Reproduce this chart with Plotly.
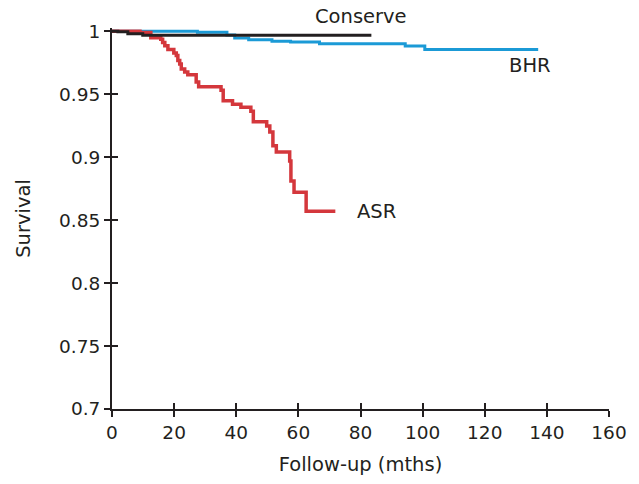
import plotly.graph_objects as go

# ---- data ----
asr_x = [0, 9.0, 12.5, 15.7, 16.3, 17.0, 18.0, 19.9, 20.7, 21.2, 21.8, 22.3, 23.4, 24.4,
         27.1, 27.9, 35.1, 35.8, 38.8, 41.5, 44.7, 45.5, 49.8, 50.8, 51.8, 52.9,
         57.2, 57.6, 58.6, 62.5, 71.9]
asr_y = [1.0, 0.999, 0.9948, 0.9935, 0.991, 0.9885, 0.9854, 0.9827, 0.9807, 0.9767, 0.974, 0.970,
         0.9676, 0.9654, 0.9597, 0.9558, 0.953, 0.9448, 0.942, 0.9395, 0.9364, 0.928, 0.9246,
         0.920, 0.909, 0.904, 0.897, 0.881, 0.872, 0.857, 0.857]

bhr_x = [0, 27.5, 37.0, 39.5, 44.0, 51.5, 57.5, 66.8, 94.4, 100.7, 137.2]
bhr_y = [1.0, 0.9992, 0.997, 0.9945, 0.9932, 0.992, 0.9914, 0.990, 0.9882, 0.9854, 0.9854]

con_x = [0, 1.9, 5.1, 9.9, 83.5]
con_y = [1.0, 0.9995, 0.998, 0.9967, 0.9967]

x_ticks = [0, 20, 40, 60, 80, 100, 120, 140, 160]
y_ticks = [0.7, 0.75, 0.8, 0.85, 0.9, 0.95, 1.0]
y_tick_text = ["0.7", "0.75", "0.8", "0.85", "0.9", "0.95", "1"]

RED = "#d4373c"
BLUE = "#1b9ad6"
BLACK = "#231f20"
FONT = "DejaVu Sans, Verdana, sans-serif"

fig = go.Figure()
fig.add_trace(go.Scatter(x=bhr_x, y=bhr_y, mode="lines", line=dict(color=BLUE, width=3, shape="hv"),
                         showlegend=False))
fig.add_trace(go.Scatter(x=asr_x, y=asr_y, mode="lines", line=dict(color=RED, width=3.5, shape="hv"),
                         showlegend=False))
fig.add_trace(go.Scatter(x=con_x, y=con_y, mode="lines", line=dict(color=BLACK, width=3, shape="hv"),
                         showlegend=False))
# invisible trace to hold the overlay axes (inside half of crossing ticks)
fig.add_trace(go.Scatter(x=[0], y=[0.7], mode="markers", marker=dict(opacity=0),
                         xaxis="x2", yaxis="y2", showlegend=False, hoverinfo="skip"))

lab_font = dict(family=FONT, size=19.5, color=BLACK)
fig.add_annotation(x=80, y=1.03, xref="x", yref="y domain", yanchor="middle", xanchor="center",
                   text="Conserve", showarrow=False, font=lab_font)
fig.add_annotation(x=134.7, y=0.973, xref="x", yref="y", yanchor="middle", xanchor="center",
                   text="BHR", showarrow=False, font=lab_font)
fig.add_annotation(x=85.1, y=0.857, xref="x", yref="y", yanchor="middle", xanchor="center",
                   text="ASR", showarrow=False, font=lab_font)

axis_common = dict(showgrid=False, zeroline=False, showline=True, linecolor=BLACK, linewidth=2,
                   tickcolor=BLACK, tickwidth=1.5, ticklen=6,
                   tickfont=dict(family=FONT, size=18.5, color=BLACK))

fig.update_layout(
    width=639, height=484,
    margin=dict(l=112, r=27, t=27.5, b=71.3),
    paper_bgcolor="white", plot_bgcolor="white",
    xaxis=dict(range=[0, 160], tickvals=x_ticks, ticks="outside",
               title=dict(text="Follow-up (mths)", font=dict(family=FONT, size=19.5, color=BLACK), standoff=15),
               **axis_common),
    yaxis=dict(range=[0.7, 1.0025], tickvals=y_ticks, ticktext=y_tick_text, ticks="outside",
               title=dict(text="Survival", font=dict(family=FONT, size=19.5, color=BLACK), standoff=23),
               **axis_common),
    xaxis2=dict(range=[0, 160], tickvals=x_ticks, ticks="inside", overlaying="x", anchor="y2",
                showticklabels=False, showgrid=False, zeroline=False, showline=False,
                tickcolor=BLACK, tickwidth=1.5, ticklen=6),
    yaxis2=dict(range=[0.7, 1.0025], tickvals=y_ticks, ticks="inside", overlaying="y", anchor="x2",
                showticklabels=False, showgrid=False, zeroline=False, showline=False,
                tickcolor=BLACK, tickwidth=1.5, ticklen=6),
)

fig.write_html("out.html", config={"displayModeBar": False},
               post_script="document.body.style.margin='0';document.body.style.overflow='hidden';")
